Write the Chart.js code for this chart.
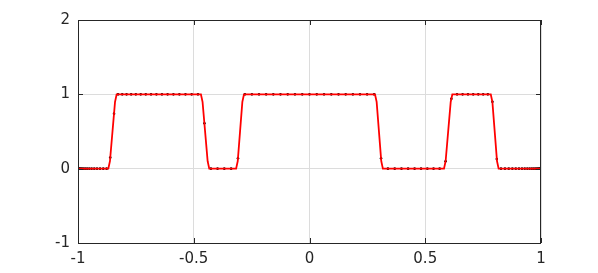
<!DOCTYPE html>
<html>
<head>
<meta charset="utf-8">
<script src="https://cdn.jsdelivr.net/npm/chart.js@4"></script>
<style>
  body { margin: 0; background: #fff; }
</style>
</head>
<body>
<canvas id="myChart" width="598" height="273"></canvas>
<script>
const ctx = document.getElementById("myChart").getContext("2d");

// sample points (clustered towards the ends)
const xs = [
  -1, -0.9995, -0.998, -0.9956, -0.9921, -0.9877, -0.9823, -0.9759, -0.9686, -0.9603,
  -0.9511, -0.9409, -0.9298, -0.9178, -0.9048, -0.891, -0.8763, -0.8607, -0.8443, -0.8271,
  -0.809, -0.7902, -0.7705, -0.7501, -0.729, -0.7071, -0.6846, -0.6613, -0.6374, -0.6129,
  -0.5878, -0.5621, -0.5358, -0.509, -0.4818, -0.454, -0.4258, -0.3972, -0.3681, -0.3387,
  -0.309, -0.279, -0.2487, -0.2181, -0.1874, -0.1564, -0.1253, -0.0941, -0.0628, -0.0314,
  0,
  0.0314, 0.0628, 0.0941, 0.1253, 0.1564, 0.1874, 0.2181, 0.2487, 0.279, 0.309,
  0.3387, 0.3681, 0.3972, 0.4258, 0.454, 0.4818, 0.509, 0.5358, 0.5621, 0.5878,
  0.6129, 0.6374, 0.6613, 0.6846, 0.7071, 0.729, 0.7501, 0.7705, 0.7902, 0.809,
  0.8271, 0.8443, 0.8607, 0.8763, 0.891, 0.9048, 0.9178, 0.9298, 0.9409, 0.9511,
  0.9603, 0.9686, 0.9759, 0.9823, 0.9877, 0.9921, 0.9956, 0.998, 0.9995, 1
];

const ys = [
  0, 0, 0, 0, 0, 0, 0, 0, 0, 0,
  0, 0, 0, 0, 0, 0, 0, 0.15, 0.74, 1,
  1, 1, 1, 1, 1, 1, 1, 1, 1, 1,
  1, 1, 1, 1, 1, 0.61, 0, 0, 0, 0,
  0.14, 1, 1, 1, 1, 1, 1, 1, 1, 1,
  1,
  1, 1, 1, 1, 1, 1, 1, 1, 1, 0.14,
  0, 0, 0, 0, 0, 0, 0, 0, 0, 0.1,
  0.94, 1, 1, 1, 1, 1, 1, 1, 0.9, 0.13,
  0, 0, 0, 0, 0, 0, 0, 0, 0, 0,
  0, 0, 0, 0, 0, 0, 0, 0, 0, 0
];

// the smooth curve: corners of each edge
const curveX = [
  -1,
  -0.869, -0.862, -0.851, -0.840, -0.833,
  -0.469, -0.462, -0.451, -0.440, -0.433,
  -0.317, -0.310, -0.300, -0.290, -0.283,
  0.283, 0.290, 0.300, 0.310, 0.317,
  0.581, 0.588, 0.599, 0.610, 0.617,
  0.783, 0.790, 0.800, 0.810, 0.817,
  1
];
const curveY = [
  0,
  0, 0.1, 0.5, 0.9, 1,
  1, 0.9, 0.5, 0.1, 0,
  0, 0.1, 0.5, 0.9, 1,
  1, 0.9, 0.5, 0.1, 0,
  0, 0.1, 0.5, 0.9, 1,
  1, 0.9, 0.5, 0.1, 0,
  0
];

const xTicks = [-1, -0.5, 0, 0.5, 1];
const yTicks = [-1, 0, 1, 2];

const points = xs.map((x, i) => ({ x: x, y: ys[i] }));
const curve = curveX.map((x, i) => ({ x: x, y: curveY[i] }));

// box round the plot area + small inward tick marks
const boxPlugin = {
  id: "box",
  afterDatasetsDraw(chart) {
    const { ctx, chartArea: a, scales } = chart;
    ctx.save();
    ctx.strokeStyle = "#262626";
    ctx.lineWidth = 1;
    ctx.strokeRect(a.left + 0.5, a.top + 0.5, a.right - a.left - 1, a.bottom - a.top);
    ctx.beginPath();
    xTicks.forEach(v => {
      const px = Math.round(scales.x.getPixelForValue(v)) + 0.5;
      ctx.moveTo(px, a.bottom); ctx.lineTo(px, a.bottom - 5);
      ctx.moveTo(px, a.top); ctx.lineTo(px, a.top + 5);
    });
    yTicks.forEach(v => {
      const py = Math.round(scales.y.getPixelForValue(v)) + 0.5;
      ctx.moveTo(a.left, py); ctx.lineTo(a.left + 5, py);
      ctx.moveTo(a.right, py); ctx.lineTo(a.right - 5, py);
    });
    ctx.stroke();
    ctx.restore();
  }
};

const config = {
  type: "line",
  data: {
    datasets: [
      {
        data: curve,
        borderColor: "#ff0000",
        borderWidth: 1.8,
        pointRadius: 0,
        tension: 0,
      },
      {
        data: points,
        borderColor: "#000",
        borderWidth: 0,
        showLine: false,
        pointRadius: 1.3,
        pointBackgroundColor: "#000",
        pointBorderWidth: 0,
      },
    ],
  },
  options: {
    responsive: false,
    animation: false,
    layout: { padding: { left: 0, right: 57, top: 20, bottom: 0 } },
    plugins: { legend: { display: false }, tooltip: { enabled: false } },
    scales: {
      x: {
        type: "linear",
        min: -1,
        max: 1,
        afterFit: (s) => { s.height = 30; },
        afterBuildTicks: (s) => { s.ticks = xTicks.map(v => ({ value: v })); },
        grid: { color: "#dcdcdc", drawTicks: false },
        border: { display: false },
        ticks: {
          padding: 7,
          color: "#262626",
          font: { family: "DejaVu Sans", size: 15 },
          maxRotation: 0,
          callback: (v) => String(v),
        },
      },
      y: {
        min: -1,
        max: 2,
        afterFit: (s) => { s.width = 78; },
        afterBuildTicks: (s) => { s.ticks = yTicks.map(v => ({ value: v })); },
        grid: { color: "#dcdcdc", drawTicks: false },
        border: { display: false },
        ticks: {
          padding: 8,
          color: "#262626",
          font: { family: "DejaVu Sans", size: 15 },
          callback: (v) => String(v),
        },
      },
    },
  },
  plugins: [boxPlugin],
};

const myChart = new Chart(ctx, config);
</script>
</body>
</html>
